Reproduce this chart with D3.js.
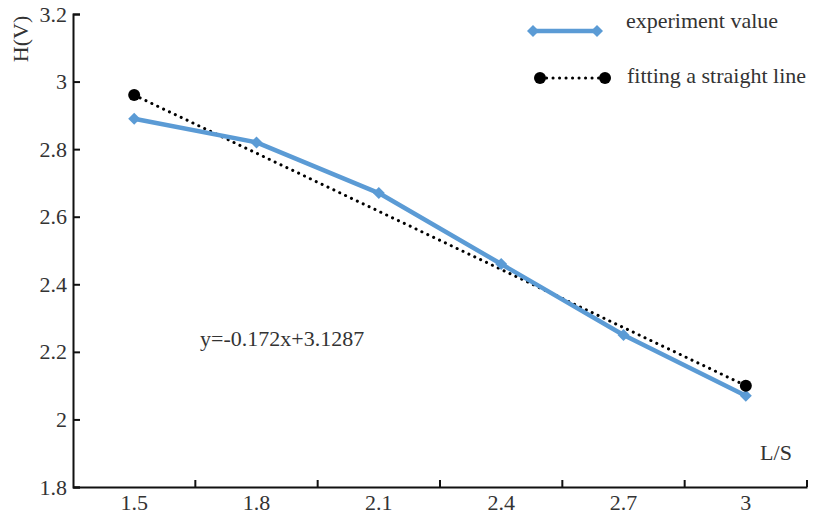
<!DOCTYPE html>
<html>
<head>
<meta charset="utf-8">
<script src="https://cdn.jsdelivr.net/npm/d3@7"></script>
<style>
  body { margin: 0; background: #fff; }
  svg text { font-family: "Liberation Serif", "Times New Roman", serif; fill: #333; }
</style>
</head>
<body>
<div id="chart"></div>
<script>
// data
const categories = ["1.5", "1.8", "2.1", "2.4", "2.7", "3"];
const experimentValues = [2.89, 2.82, 2.67, 2.46, 2.25, 2.07];
const fitCategories = ["1.5", "3"];
const fitValues = [2.96, 2.10];
const yTicks = [1.8, 2, 2.2, 2.4, 2.6, 2.8, 3, 3.2];
const equationLabel = "y=-0.172x+3.1287";

const size = {width: 815, height: 515};
const margin = {top: 14, right: 8, bottom: 28, left: 73};
const width = size.width - margin.left - margin.right;
const height = size.height - margin.top - margin.bottom;

const blue = "#5b9bd5";
const fontSize = "22px";

const svg = d3.select("#chart").append("svg")
    .attr("width", size.width)
    .attr("height", size.height)
    .append("g")
    .attr("transform", "translate(" + margin.left + "," + margin.top + ")");

const xScale = d3.scaleBand().domain(categories).range([0, width]);
const yScale = d3.scaleLinear().domain([1.8, 3.2]).range([height, 0]);
const xPos = c => xScale(c) + xScale.bandwidth() / 2;

// x axis: labels in band centres, ticks on band boundaries pointing up
const xAxisG = svg.append("g")
    .attr("class", "xAxisG")
    .attr("transform", "translate(0," + height + ")")
    .call(d3.axisBottom(xScale).tickSize(0).tickPadding(7));
xAxisG.select(".domain").attr("stroke", "#111").attr("stroke-width", 2);
xAxisG.selectAll("text").style("font-size", fontSize).style("fill", "#333");

xAxisG.selectAll(".boundTick")
    .data(categories)
    .join("line")
    .attr("class", "boundTick")
    .attr("x1", c => xScale(c) + xScale.bandwidth())
    .attr("x2", c => xScale(c) + xScale.bandwidth())
    .attr("y1", 0)
    .attr("y2", -7)
    .attr("stroke", "#111")
    .attr("stroke-width", 2);

// y axis, ticks inward
const yAxisG = svg.append("g")
    .attr("class", "yAxisG")
    .call(d3.axisLeft(yScale).tickValues(yTicks).tickSize(-7).tickPadding(6).tickFormat(d3.format("")));
yAxisG.select(".domain").attr("stroke", "#111").attr("stroke-width", 2);
yAxisG.selectAll(".tick line").attr("stroke", "#111").attr("stroke-width", 2);
yAxisG.selectAll("text").style("font-size", fontSize).style("fill", "#333");

// axis titles
svg.append("text")
    .attr("transform", "rotate(-90)")
    .attr("x", -25)
    .attr("y", -45)
    .attr("text-anchor", "middle")
    .style("font-size", fontSize)
    .text("H(V)");

svg.append("text")
    .attr("x", 703)
    .attr("y", height - 27)
    .attr("text-anchor", "middle")
    .style("font-size", fontSize)
    .text("L/S");

// fitted straight line
const fitData = fitCategories.map((c, i) => ({c: c, v: fitValues[i]}));
svg.append("path")
    .datum(fitData)
    .attr("fill", "none")
    .attr("stroke", "#000")
    .attr("stroke-width", 3)
    .attr("stroke-linecap", "round")
    .attr("stroke-dasharray", "0.1,6.4")
    .attr("d", d3.line().x(d => xPos(d.c)).y(d => yScale(d.v)));

// experiment values
const expData = categories.map((c, i) => ({c: c, v: experimentValues[i]}));
svg.append("path")
    .datum(expData)
    .attr("fill", "none")
    .attr("stroke", blue)
    .attr("stroke-width", 4.5)
    .attr("stroke-linejoin", "round")
    .attr("d", d3.line().x(d => xPos(d.c)).y(d => yScale(d.v)));

// square symbol turned 45 degrees gives the even diamond
const diamond = d3.symbol().type(d3.symbolSquare).size(72);
svg.selectAll(".expMarker")
    .data(expData)
    .join("path")
    .attr("class", "expMarker")
    .attr("d", diamond)
    .attr("fill", blue)
    .attr("transform", d => "translate(" + xPos(d.c) + "," + yScale(d.v) + ") rotate(45)");

svg.selectAll(".fitMarker")
    .data(fitData)
    .join("circle")
    .attr("class", "fitMarker")
    .attr("cx", d => xPos(d.c))
    .attr("cy", d => yScale(d.v))
    .attr("r", 6)
    .attr("fill", "#000");

// equation label
svg.append("text")
    .attr("x", 127)
    .attr("y", 332)
    .style("font-size", fontSize)
    .text(equationLabel);

// legend
const legend = svg.append("g").attr("transform", "translate(" + (533 - margin.left) + "," + (31 - margin.top) + ")");
legend.append("line")
    .attr("x1", 0).attr("x2", 64).attr("y1", 0).attr("y2", 0)
    .attr("stroke", blue).attr("stroke-width", 4.5);
[0, 64].forEach(x => legend.append("path")
    .attr("d", diamond)
    .attr("fill", blue)
    .attr("transform", "translate(" + x + ",0) rotate(45)"));
legend.append("text")
    .attr("x", 93).attr("y", -3)
    .style("font-size", fontSize)
    .text("experiment value");

const fitLegend = legend.append("g").attr("transform", "translate(7,47)");
fitLegend.append("line")
    .attr("x1", 0).attr("x2", 65).attr("y1", 0).attr("y2", 0)
    .attr("stroke", "#000").attr("stroke-width", 3)
    .attr("stroke-linecap", "round")
    .attr("stroke-dasharray", "0.1,6.4");
[0, 65].forEach(x => fitLegend.append("circle")
    .attr("cx", x).attr("cy", 0).attr("r", 6).attr("fill", "#000"));
fitLegend.append("text")
    .attr("x", 87).attr("y", 5)
    .style("font-size", fontSize)
    .text("fitting a straight line");
</script>
</body>
</html>
